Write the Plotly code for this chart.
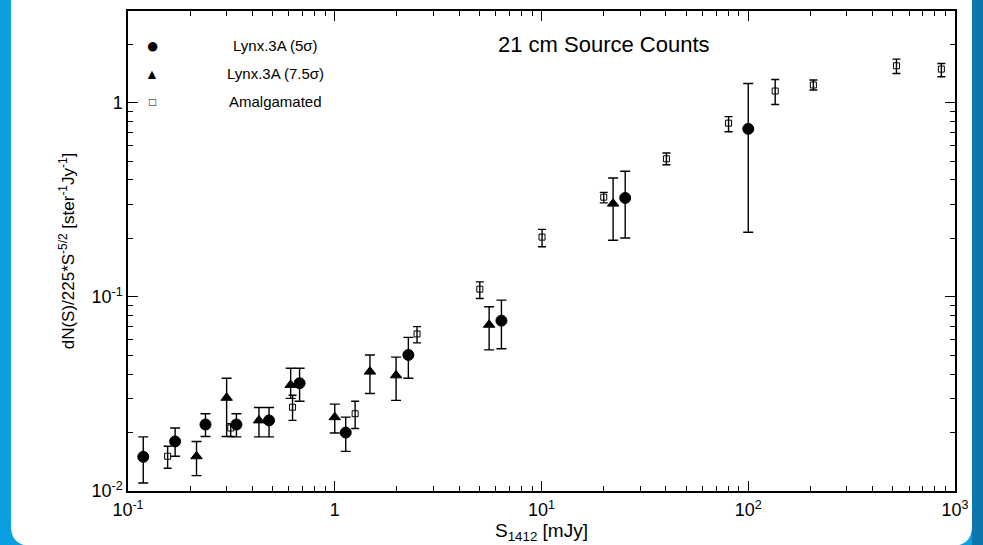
import plotly.graph_objects as go

# Lynx.3A (5 sigma) - filled circles
circ_x = [0.1185, 0.169, 0.237, 0.3345, 0.481, 0.676, 1.13, 2.27, 6.40, 25.4, 100.0]
circ_y = [0.0150, 0.0180, 0.0220, 0.0220, 0.0231, 0.0359, 0.0200, 0.0502, 0.0754, 0.323, 0.733]
circ_hi = [0.0190, 0.0211, 0.0250, 0.0250, 0.0269, 0.0429, 0.0240, 0.0618, 0.0962, 0.443, 1.256]
circ_lo = [0.0110, 0.0151, 0.0191, 0.0190, 0.0190, 0.0290, 0.0160, 0.0381, 0.0540, 0.201, 0.215]

# Lynx.3A (7.5 sigma) - filled triangles
tri_x = [0.2145, 0.300, 0.430, 0.612, 1.0, 1.48, 1.98, 5.58, 22.2]
tri_y = [0.0151, 0.0302, 0.0231, 0.0352, 0.0240, 0.0412, 0.0394, 0.0718, 0.302]
tri_hi = [0.0180, 0.0381, 0.0269, 0.0429, 0.0280, 0.0502, 0.0489, 0.0889, 0.409]
tri_lo = [0.0120, 0.0191, 0.0190, 0.0300, 0.0199, 0.0318, 0.0293, 0.0533, 0.1955]

# Amalgamated - open squares
sq_x = [0.1555, 0.314, 0.625, 1.255, 2.50, 5.03, 10.06, 20.0, 40.2, 80.3, 135.0, 206.5, 521.0, 859.0]
sq_y = [0.0151, 0.0211, 0.0270, 0.0250, 0.0644, 0.1095, 0.203, 0.326, 0.514, 0.784, 1.148, 1.233, 1.549, 1.489]
sq_hi = [0.0170, 0.0222, 0.0311, 0.0290, 0.0702, 0.1194, 0.2225, 0.345, 0.550, 0.847, 1.317, 1.307, 1.675, 1.590]
sq_lo = [0.0131, 0.0191, 0.0231, 0.0210, 0.0579, 0.0980, 0.181, 0.3045, 0.479, 0.708, 0.979, 1.161, 1.413, 1.359]

x_ticks = [0.1, 1, 10, 100, 1000]
x_labels = ["10<sup>-1</sup>", "1", "10<sup>1</sup>", "10<sup>2</sup>", "10<sup>3</sup>"]
y_ticks = [0.01, 0.1, 1]
y_labels = ["10<sup>-2</sup>", "10<sup>-1</sup>", "1"]

legend_names = ["Lynx.3A (5σ)", "Lynx.3A (7.5σ)", "Amalgamated"]
legend_glyphs = ["●", "▲", "□"]

W, H = 983, 545
L, R, T, B = 128, 28, 9, 54
PW, PH = W - L - R, H - T - B


def px(x):
    return (x - L) / PW


def py(y):
    return (H - B - y) / PH


def errs(y, hi, lo):
    return [h - v for h, v in zip(hi, y)], [v - l for v, l in zip(y, lo)]


fig = go.Figure()

for xs, ys, hi, lo, sym, size, cap in [
    (sq_x, sq_y, sq_hi, sq_lo, "square-open", 6, 4),
    (tri_x, tri_y, tri_hi, tri_lo, "triangle-up", 10, 5),
    (circ_x, circ_y, circ_hi, circ_lo, "circle", 11, 5),
]:
    up, down = errs(ys, hi, lo)
    fig.add_trace(go.Scatter(
        x=xs, y=ys, mode="markers",
        marker=dict(symbol=sym, size=size, color="black",
                    line=dict(color="black", width=1)),
        error_y=dict(type="data", array=up, arrayminus=down,
                     color="black", thickness=1.4, width=cap),
        showlegend=False,
    ))

# blue slide frame with white rounded panel
x0, x1, y0, y1, r = 11, 972, -5, 546, 20
panel = (f"M {px(x0)},{py(y0)} L {px(x1)},{py(y0)} L {px(x1)},{py(y1 - r)} "
         f"Q {px(x1)},{py(y1)} {px(x1 - r)},{py(y1)} L {px(x0 + r)},{py(y1)} "
         f"Q {px(x0)},{py(y1)} {px(x0)},{py(y1 - r)} Z")
shapes = [
    dict(type="rect", xref="paper", yref="paper", x0=px(972), x1=px(990),
         y0=py(-5), y1=py(550), fillcolor="#0b77aa", line_width=0, layer="below"),
    dict(type="path", xref="paper", yref="paper", path=panel,
         fillcolor="white", line_width=0, layer="below"),
]

annotations = [
    dict(x=px(604), y=py(43), xref="paper", yref="paper", text="21 cm Source Counts",
         xanchor="center", yanchor="middle",
         showarrow=False, font=dict(size=22, color="black")),
]
for i, (name, glyph) in enumerate(zip(legend_names, legend_glyphs)):
    yy = [44, 72, 100][i]
    gsize = [22, 14, 12][i]
    annotations.append(dict(x=px(152), y=py(yy), xref="paper", yref="paper", text=glyph,
                            xanchor="center", yanchor="middle",
                            showarrow=False, font=dict(size=gsize, color="black")))
    annotations.append(dict(x=px(275), y=py(yy), xref="paper", yref="paper", text=name,
                            xanchor="center", yanchor="middle",
                            showarrow=False, font=dict(size=15, color="black")))

minor_x = [m * 10 ** e for e in range(-1, 3) for m in range(2, 10)]
minor_y = [m * 10 ** e for e in range(-2, 1) for m in range(2, 10)]

axis_style = dict(
    showline=True, linecolor="black", linewidth=1.5, mirror="ticks",
    ticks="inside", ticklen=10, tickwidth=1.2, tickcolor="black",
    showgrid=False, zeroline=False, tickfont=dict(size=18, color="black"),
)

fig.update_layout(
    width=W, height=H,
    margin=dict(l=L, r=R, t=T, b=B),
    paper_bgcolor="#0aa0e0", plot_bgcolor="white",
    font=dict(family="Liberation Sans, Arial, sans-serif", color="black"),
    shapes=shapes, annotations=annotations,
    xaxis=dict(type="log", range=[-1, 3], tickmode="array", tickvals=x_ticks,
               ticktext=x_labels, ticklabelstandoff=2,
               minor=dict(tickmode="array", tickvals=minor_x, ticks="inside",
                          ticklen=5, tickcolor="black", showgrid=False),
               title=dict(text="S<sub>1412</sub> [mJy]", font=dict(size=19), standoff=0),
               **axis_style),
    yaxis=dict(type="log", range=[-2, 0.472], tickmode="array", tickvals=y_ticks,
               ticktext=y_labels,
               minor=dict(tickmode="array", tickvals=minor_y, ticks="inside",
                          ticklen=5, tickcolor="black", showgrid=False),
               title=dict(text="dN(S)/225*S<sup>-5/2</sup> [ster<sup>-1</sup>Jy<sup>-1</sup>]",
                          font=dict(size=17), standoff=12),
               **axis_style),
)

# page margin off so the figure sits at the window's corner
fig.write_html("out.html", config={"displayModeBar": False},
               post_script="document.body.style.margin='0';")
